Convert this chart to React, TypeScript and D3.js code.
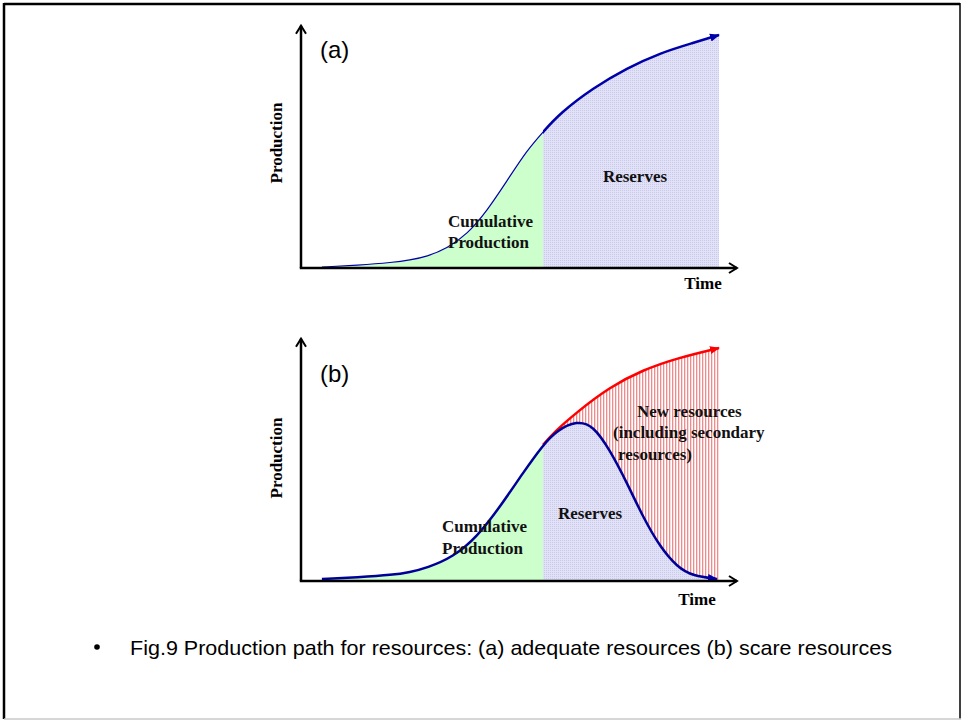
import React from "react";
import * as d3 from "d3";

// Panel (a): adequate resources — production path (time, production)
const timeA = [5.0, 13.5, 22.0, 26.0, 30.1, 34.9, 39.7, 44.5, 49.3, 54.1, 57.9, 62.0, 69.9, 78.0, 85.9, 93.8, 100];
const prodA = [0.4, 1.2, 2.4, 3.4, 4.9, 8.4, 14.4, 24.5, 37.5, 50.6, 58.4, 66.5, 77.3, 85.8, 92.3, 96.6, 100];

// Panel (b): scarce resources — production path
const timeB = [5.0, 13.5, 22.0, 26.0, 30.1, 36.4, 42.1, 47.6, 53.1, 57.9, 61.2, 66.0, 69.9, 73.9, 78.0, 81.8, 85.9, 90.0, 93.8, 99.5];
const prodB = [0.9, 1.6, 2.6, 3.8, 5.6, 10.3, 18.9, 31.8, 46.4, 58.4, 64.6, 68.8, 66.8, 56.2, 42.1, 27.5, 14.6, 6.0, 2.1, 0.9];

// Panel (b): path with new resources
const timeNew = [57.9, 60.3, 66.0, 73.9, 81.8, 90.0, 100];
const prodNew = [58.4, 63.5, 72.5, 83.3, 90.6, 95.7, 100];

const splitTime = 57.9; // today: cumulative production | reserves
const xAxisEnd = 104.3;
const yAxisEnd = 104;

const titleA = "(a)";
const titleB = "(b)";
const yLabel = "Production";
const xLabel = "Time";
const caption = "Fig.9  Production path for resources: (a) adequate resources (b) scare resources";

type P = [number, number];
const zip = (t: number[], v: number[]): P[] => t.map((d, i) => [d, v[i]]);

const serif = "Liberation Serif, Times New Roman, serif";
const sans = "Liberation Sans, Arial, sans-serif";

function Panel({ top, id, scarce }: { top: number; id: string; scarce: boolean }) {
  const baseY = top + 243; // y pixel of axis
  const x = d3.scaleLinear().domain([0, 100]).range([301, 719]);
  const y = d3.scaleLinear().domain([0, 100]).range([baseY, baseY - 233]);
  const curve = d3.curveBasis;
  const line = d3.line<P>().x((d) => x(d[0])).y((d) => y(d[1])).curve(curve);
  const area = d3.area<P>().x((d) => x(d[0])).y0(y(0)).y1((d) => y(d[1])).curve(curve);

  const main = scarce ? zip(timeB, prodB) : zip(timeA, prodA);
  const sx = x(splitTime);
  const ax0 = x(0);
  const axTop = y(yAxisEnd);
  const axRight = x(xAxisEnd);

  return (
    <g>
      <defs>
        <clipPath id={`${id}-left`}>
          <rect x={0} y={top - 50} width={sx} height={400} />
        </clipPath>
        <clipPath id={`${id}-right`}>
          <rect x={sx} y={top - 50} width={400} height={400} />
        </clipPath>
      </defs>
      {scarce && <path d={area(zip(timeNew, prodNew)) || ""} fill="url(#stripes)" />}
      <path d={area(main) || ""} fill="#ccffcc" clipPath={`url(#${id}-left)`} />
      <path d={area(main) || ""} fill="url(#dots)" clipPath={`url(#${id}-right)`} />

      {scarce ? (
        <>
          <path d={line(zip(timeNew, prodNew)) || ""} fill="none" stroke="#ff0000" strokeWidth={2.5} markerEnd="url(#arrRed)" />
          <path d={line(main) || ""} fill="none" stroke="#000099" strokeWidth={2.5} markerEnd="url(#arrBlue)" />
        </>
      ) : (
        <>
          <path d={line(main) || ""} fill="none" stroke="#0000aa" strokeWidth={1.2} clipPath={`url(#${id}-left)`} />
          <path d={line(main) || ""} fill="none" stroke="#0000aa" strokeWidth={2.5} clipPath={`url(#${id}-right)`} markerEnd="url(#arrBlue)" />
        </>
      )}

      <line x1={ax0} y1={y(0)} x2={ax0} y2={axTop} stroke="#000" strokeWidth={2.5} />
      <polyline points={`${ax0 - 5},${axTop + 8} ${ax0},${axTop} ${ax0 + 5},${axTop + 8}`} fill="none" stroke="#000" strokeWidth={2} />
      <line x1={ax0 - 1.2} y1={y(0)} x2={axRight} y2={y(0)} stroke="#000" strokeWidth={2.5} />
      <polyline points={`${axRight - 8},${y(0) - 5} ${axRight},${y(0)} ${axRight - 8},${y(0) + 5}`} fill="none" stroke="#000" strokeWidth={2} />

      <text x={320} y={top + (scarce ? 44 : 33)} fontFamily={sans} fontSize={24}>
        {scarce ? titleB : titleA}
      </text>
      <text
        transform={`translate(282, ${top + (scarce ? 120 : 118)}) rotate(-90)`}
        textAnchor="middle"
        fontFamily={serif}
        fontWeight="bold"
        fontSize={17}
      >
        {yLabel}
      </text>
      <text x={scarce ? 697 : 703} y={baseY + (scarce ? 24 : 21)} textAnchor="middle" fontFamily={serif} fontWeight="bold" fontSize={17}>
        {xLabel}
      </text>
    </g>
  );
}

export default function App() {
  return (
    <svg width={962} height={722} style={{ position: "absolute", left: 0, top: 0, background: "#fff" }}>
      <defs>
        <pattern id="dots" width={2} height={2} patternUnits="userSpaceOnUse">
          <rect width={2} height={2} fill="#e2e2f7" />
          <rect width={1} height={1} fill="#c9c9ee" />
        </pattern>
        <pattern id="stripes" width={3} height={4} patternUnits="userSpaceOnUse">
          <rect width={3} height={4} fill="#ffffff" />
          <rect width={1.3} height={4} fill="#f18a8a" />
        </pattern>
        <marker id="arrBlue" viewBox="0 0 10 10" refX={9} refY={5} markerWidth={4} markerHeight={4} orient="auto" markerUnits="strokeWidth">
          <path d="M0,1 L10,5 L0,9 Z" fill="#0000aa" />
        </marker>
        <marker id="arrRed" viewBox="0 0 10 10" refX={9} refY={5} markerWidth={4} markerHeight={4} orient="auto" markerUnits="strokeWidth">
          <path d="M0,1 L10,5 L0,9 Z" fill="#ff0000" />
        </marker>
      </defs>
      <line x1={4} y1={4} x2={960} y2={4} stroke="#000" strokeWidth={2.5} />
      <line x1={4} y1={3} x2={4} y2={719} stroke="#000" strokeWidth={2.5} />
      <line x1={960} y1={3} x2={960} y2={719} stroke="#000" strokeWidth={1.5} />
      <line x1={4} y1={719} x2={961} y2={719} stroke="#c8c8c8" strokeWidth={1.5} />

      <Panel top={25} id="pa" scarce={false} />
      <Panel top={338} id="pb" scarce={true} />

      <g fontFamily={serif} fontWeight="bold" fontSize={17} fill="#111">
        <text x={635} y={182} textAnchor="middle">Reserves</text>
        <text x={448} y={227}>Cumulative</text>
        <text x={448} y={248}>Production</text>

        <text x={442} y={532}>Cumulative</text>
        <text x={442} y={554}>Production</text>
        <text x={558} y={519}>Reserves</text>
        <text x={637} y={417}>New resources</text>
        <text x={613} y={438}>(including secondary</text>
        <text x={618} y={460}>resources)</text>
      </g>

      <circle cx={97} cy={647} r={2.8} fill="#000" />
      <text x={130} y={655} fontFamily={sans} fontSize={21} textLength={762} lengthAdjust="spacingAndGlyphs">
        {caption}
      </text>
    </svg>
  );
}
